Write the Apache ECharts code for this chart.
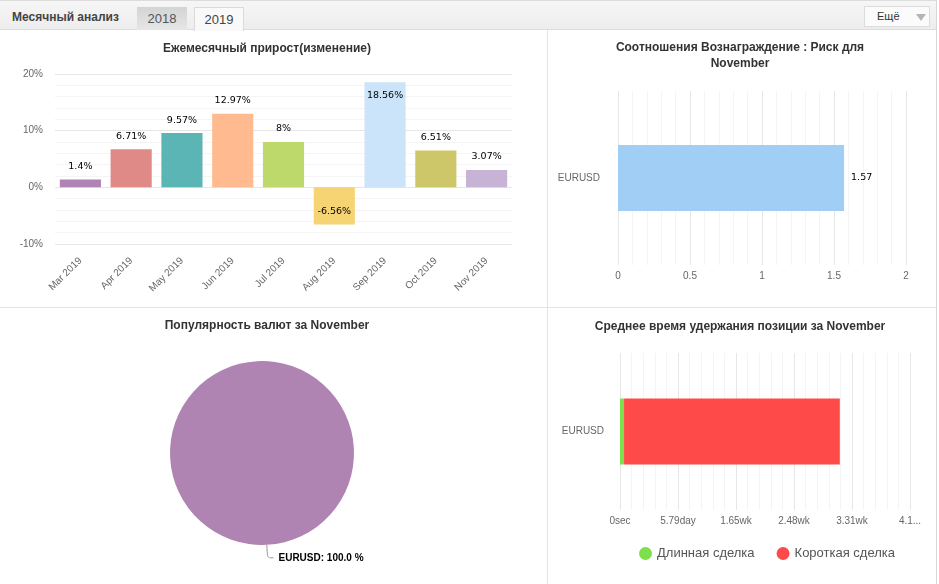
<!DOCTYPE html>
<html>
<head>
<meta charset="utf-8">
<script src="https://cdn.jsdelivr.net/npm/echarts@6/dist/echarts.min.js"></script>
<style>
  body { margin: 0; background: #fff; font-family: "Liberation Sans", Arial, sans-serif; }
  #page { position: relative; width: 939px; height: 584px; overflow: hidden; }
  .head { position: absolute; left: 0; top: 0; width: 936px; height: 30px;
    background: linear-gradient(#f6f6f6, #ededed); border-top: 1px solid #dcdcdc; border-bottom: 1px solid #dcdcdc; box-sizing: border-box; }
  .head .name { position: absolute; left: 12px; top: 9px; font-size: 12px; font-weight: bold; color: #444; }
  .tab { position: absolute; top: 7px; width: 50px; height: 23px; font-size: 13px; color: #555;
    text-align: center; line-height: 23px; box-sizing: border-box; }
  .tab.off { left: 137px; background: linear-gradient(#d4d4d4, #e6e6e6); }
  .tab.on { left: 194px; height: 24px; background: #f9f9f9; border: 1px solid #dadada; border-bottom: none; color: #444; }
  .more { position: absolute; left: 864px; top: 6px; width: 66px; height: 21px; background: #fbfbfb;
    border: 1px solid #dcdcdc; box-sizing: border-box; font-size: 11px; color: #333; }
  .more span { position: absolute; left: 12px; top: 3px; }
  .more i { position: absolute; left: 51px; top: 7px; width: 0; height: 0;
    border-left: 5px solid transparent; border-right: 5px solid transparent; border-top: 7px solid #b5b5b5; }
  .vline { position: absolute; left: 547px; top: 30px; width: 1px; height: 554px; background: #e4e4e4; }
  .hline { position: absolute; left: 0; top: 307px; width: 936px; height: 1px; background: #e4e4e4; }
  .rline { position: absolute; left: 936px; top: 0; width: 1px; height: 584px; background: #d8d8d8; }
  .box { position: absolute; }
</style>
</head>
<body>
<div id="page">
  <div class="head">
    <div class="name">Месячный анализ</div>
  </div>
  <div class="tab off">2018</div>
  <div class="tab on">2019</div>
  <div class="more"><span>Ещё</span><i></i></div>

  <div class="box" id="growth" style="left:0;top:31px;width:547px;height:276px;"></div>
  <div class="box" id="ratio" style="left:548px;top:31px;width:388px;height:276px;"></div>
  <div class="box" id="pop" style="left:0;top:308px;width:547px;height:276px;"></div>
  <div class="box" id="hold" style="left:548px;top:308px;width:388px;height:276px;"></div>

  <div class="vline"></div>
  <div class="hline"></div>
  <div class="rline"></div>
</div>

<script>
// данные
var months = ["Mar 2019", "Apr 2019", "May 2019", "Jun 2019", "Jul 2019", "Aug 2019", "Sep 2019", "Oct 2019", "Nov 2019"];
var growth = [1.4, 6.71, 9.57, 12.97, 8, -6.56, 18.56, 6.51, 3.07];
var growthTicks = [-10, 0, 10, 20];

var ratioSymbols = ["EURUSD"];
var ratioValues = [1.57];
var ratioTicks = [0, 0.5, 1, 1.5, 2];

var popNames = ["EURUSD"];
var popValues = [100.0];

var holdSymbols = ["EURUSD"];
var holdLong = [35000];      // сек
var holdShort = [1860000];   // сек
var holdTicks = [0, 500000, 1000000, 1500000, 2000000, 2500000];

var barColors = ["#b083b5", "#e08a87", "#5bb5b5", "#ffba8f", "#bdd86b", "#f6d473", "#cbe4f9", "#cdc76a", "#c7b3d6"];

var titleStyle = { fontSize: 12, fontWeight: "bold", color: "#333", fontFamily: "Liberation Sans" };
var axisText = { fontSize: 10, color: "#666", fontFamily: "Liberation Sans" };
var major = { show: true, lineStyle: { color: "#e6e6e6" } };
var minor = { show: true, lineStyle: { color: "#f4f4f4" } };

// 1. прирост по месяцам
var chart1 = echarts.init(document.getElementById("growth"));
chart1.setOption({
  animation: false,
  title: { text: "Ежемесячный прирост(изменение)", left: 262, top: 7, textAlign: "center", textStyle: titleStyle },
  grid: { left: 55, right: 35, top: 43, bottom: 63 },
  xAxis: {
    type: "category", data: months,
    axisLine: { show: false }, axisTick: { show: false },
    axisLabel: Object.assign({ rotate: 45, margin: 15 }, axisText)
  },
  yAxis: {
    type: "value", min: growthTicks[0], max: growthTicks[growthTicks.length - 1], interval: 10,
    minorTick: { show: false, splitNumber: 5 },
    splitLine: major, minorSplitLine: minor,
    axisLabel: Object.assign({ formatter: "{value}%", margin: 12 }, axisText)
  },
  series: [{
    type: "bar", barCategoryGap: "19%",
    data: growth.map(function (v, i) {
      var pos = "top";
      if (v < 0) pos = "insideBottom";
      if (v > 16) pos = "insideTop";
      return { value: v, itemStyle: { color: barColors[i] }, label: { position: pos } };
    }),
    label: { show: true, distance: 8, formatter: "{c}%", fontSize: 9.5, color: "#000", fontFamily: "DejaVu Sans" }
  }]
});

// 2. вознаграждение : риск
var chart2 = echarts.init(document.getElementById("ratio"));
chart2.setOption({
  animation: false,
  title: { text: "Соотношения Вознаграждение : Риск для\nNovember", left: 187, top: 4, textAlign: "center",
    textStyle: Object.assign({ lineHeight: 16 }, titleStyle) },
  grid: { left: 70, right: 30, top: 60, bottom: 42 },
  xAxis: {
    type: "value", min: ratioTicks[0], max: ratioTicks[ratioTicks.length - 1], interval: 0.5,
    minorTick: { show: false, splitNumber: 5 }, splitLine: major, minorSplitLine: minor,
    axisLine: { show: false }, axisTick: { show: false },
    axisLabel: Object.assign({ margin: 6 }, axisText)
  },
  yAxis: {
    type: "category", data: ratioSymbols,
    axisLine: { show: false }, axisTick: { show: false },
    axisLabel: Object.assign({ margin: 18 }, axisText)
  },
  series: [{
    type: "bar", data: ratioValues, barWidth: 66,
    itemStyle: { color: "#a0cef4" },
    label: { show: true, position: "right", distance: 7, fontSize: 9.5, color: "#000", fontFamily: "DejaVu Sans" }
  }]
});

// 3. популярность валют
var chart3 = echarts.init(document.getElementById("pop"));
chart3.setOption({
  animation: false,
  title: { text: "Популярность валют за November", left: 262, top: 7, textAlign: "center", textStyle: titleStyle },
  series: [{
    type: "pie", center: [262, 145], radius: 92, startAngle: 93,
    data: popNames.map(function (n, i) { return { name: n, value: popValues[i] }; }),
    itemStyle: { color: "#b084b2" },
    emphasis: { disabled: true },
    label: { formatter: function (p) { return p.name + ": " + p.value.toFixed(1) + " %"; },
      fontSize: 10, fontWeight: "bold", color: "#000", fontFamily: "Liberation Sans" },
    labelLine: { length: 13, length2: 6, smooth: true, lineStyle: { color: "#9f8aa6" } }
  }]
});

// 4. среднее время удержания
function fmtDur(v) {
  if (v === 0) return "0sec";
  var d = v / 86400;
  var s = d < 7 ? +d.toFixed(2) + "day" : +(d / 7).toFixed(2) + "wk";
  if (v >= holdTicks[holdTicks.length - 1]) s = s.slice(0, 3) + "...";
  return s;
}
var chart4 = echarts.init(document.getElementById("hold"));
chart4.setOption({
  animation: false,
  title: { text: "Среднее время удержания позиции за November", left: 187, top: 8, textAlign: "center", textStyle: titleStyle },
  legend: {
    left: 86, top: 234, icon: "circle", itemWidth: 13, itemHeight: 13, itemGap: 22,
    textStyle: { fontSize: 13, color: "#555", fontFamily: "Liberation Sans" },
    data: ["Длинная сделка", "Короткая сделка"]
  },
  grid: { left: 72, right: 26, top: 45, bottom: 74 },
  xAxis: {
    type: "value", min: holdTicks[0], max: holdTicks[holdTicks.length - 1], interval: 500000,
    minorTick: { show: false, splitNumber: 5 }, splitLine: major, minorSplitLine: minor,
    axisLine: { show: false }, axisTick: { show: false },
    axisLabel: Object.assign({ margin: 6, formatter: fmtDur }, axisText)
  },
  yAxis: {
    type: "category", data: holdSymbols,
    axisLine: { show: false }, axisTick: { show: false },
    axisLabel: Object.assign({ margin: 16 }, axisText)
  },
  series: [
    { name: "Длинная сделка", type: "bar", stack: "t", data: holdLong, barWidth: 66, itemStyle: { color: "#7ddf4c" } },
    { name: "Короткая сделка", type: "bar", stack: "t", data: holdShort, barWidth: 66, itemStyle: { color: "#ff4a4a" } }
  ]
});
</script>
</body>
</html>
